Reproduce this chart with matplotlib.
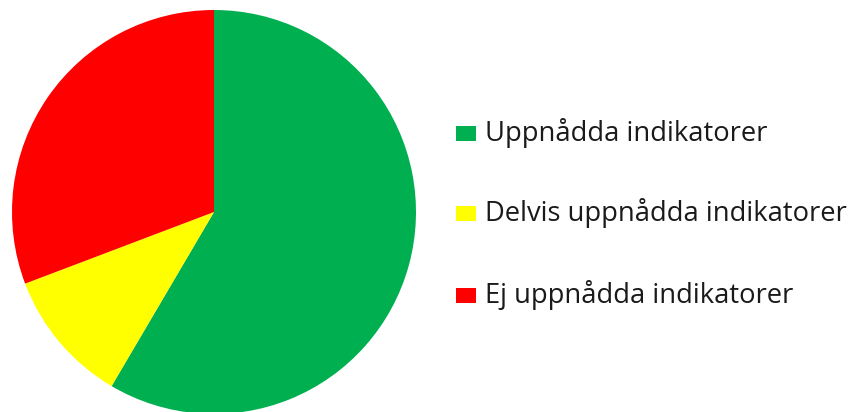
import matplotlib
matplotlib.use("Agg")
import matplotlib.pyplot as plt
from matplotlib.patches import Rectangle

# data
labels = ["Uppnådda indikatorer", "Delvis uppnådda indikatorer", "Ej uppnådda indikatorer"]
values = [38, 7, 20]
colors = ["#00B050", "#FFFF00", "#FF0000"]

W, H = 853, 412
fig = plt.figure(figsize=(W / 100, H / 100), dpi=100)

# pie circle spans roughly x 12..416, y 10..414 (pixels from top)
ax = fig.add_axes([12 / W, (H - 414) / H, 404 / W, 404 / H])
ax.pie(values, colors=colors, startangle=90, counterclock=False, radius=1.0,
       wedgeprops=dict(linewidth=0))
ax.set_xlim(-1, 1)
ax.set_ylim(-1, 1)
ax.set_aspect("equal")
ax.axis("off")

# legend drawn by hand so it sits where the original does
font = "Open Sans"
row_y = [133, 213, 295]
fs = 17
renderer = fig.canvas.get_renderer()
t = fig.text(0, 0, labels[1], fontsize=fs, family=font)
w = t.get_window_extent(renderer).width
t.remove()
fs = fs * 363 / w

for lab, col, y in zip(labels, colors, row_y):
    fig.add_artist(Rectangle((456 / W, (H - y - 8) / H), 20 / W, 15 / H,
                             transform=fig.transFigure, facecolor=col,
                             edgecolor="none"))
    fig.text(485 / W, (H - y) / H, lab, fontsize=fs, family=font,
             color="#1a1a1a", va="center")

fig.savefig("out.png", dpi=100)
